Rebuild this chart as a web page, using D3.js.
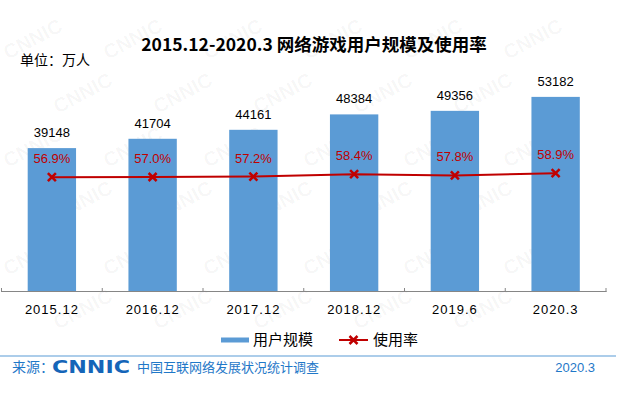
<!DOCTYPE html>
<html>
<head>
<meta charset="utf-8">
<script src="https://cdn.jsdelivr.net/npm/d3@7"></script>
<style>
  body { margin: 0; background: #fff; }
  svg { display: block; font-family: "Liberation Sans", Arial, "Noto Sans CJK SC", sans-serif; }
</style>
</head>
<body>
<div id="chart"></div>
<script>
var width = 629, height = 393;

// data
var periods = ["2015.12", "2016.12", "2017.12", "2018.12", "2019.6", "2020.3"];
var users = [39148, 41704, 44161, 48384, 49356, 53182];
var rates = [56.9, 57.0, 57.2, 58.4, 57.8, 58.9];

var barColor = "#5b9bd5", lineColor = "#c00000", blue = "#1f78c8";

var svg = d3.select("#chart")
  .append("svg")
  .attr("width", width)
  .attr("height", height);

// faint CNNIC watermark, kept inside the frame
var wm = svg.append("g").attr("fill", "#000").attr("fill-opacity", 0.04);
for (var r = 0; r < 6; r++) {
  for (var c = 0; c < 6; c++) {
    var wx = c * 100 + (r % 2) * 50 + 8, wy = r * 54 + 60;
    if (wx > 540) continue;
    wm.append("text")
      .attr("transform", "translate(" + wx + "," + wy + ") rotate(-28)")
      .attr("font-size", 20)
      .attr("font-weight", "bold")
      .text("CNNIC");
  }
}

var x = d3.scaleBand()
  .domain(periods)
  .range([1.5, 606])
  .paddingInner(0.52)
  .paddingOuter(0.26);

var y = d3.scaleLinear().domain([0, 60000]).range([291, 72]);
var y2 = d3.scaleLinear().domain([0, 110]).range([291, 71]);

// title
svg.append("text")
  .attr("x", 314).attr("y", 51)
  .attr("text-anchor", "middle")
  .attr("font-size", 17.5)
  .attr("font-weight", "bold")
  .attr("font-family", "'Noto Sans CJK SC', sans-serif")
  .text("2015.12-2020.3 网络游戏用户规模及使用率");

svg.append("text")
  .attr("x", 20).attr("y", 65)
  .attr("font-size", 14)
  .attr("font-family", "'Noto Sans CJK SC', sans-serif")
  .text("单位：万人");

// bars
svg.selectAll(".bar")
  .data(users)
  .enter().append("rect")
  .attr("class", "bar")
  .attr("x", function(d, i) { return x(periods[i]); })
  .attr("y", function(d) { return y(d); })
  .attr("width", x.bandwidth())
  .attr("height", function(d) { return y(0) - y(d); })
  .attr("fill", barColor);

svg.selectAll(".val")
  .data(users)
  .enter().append("text")
  .attr("class", "val")
  .attr("x", function(d, i) { return x(periods[i]) + x.bandwidth() / 2; })
  .attr("y", function(d) { return y(d) - 11; })
  .attr("text-anchor", "middle")
  .attr("font-size", 13)
  .attr("fill", "#000")
  .text(function(d) { return d; });

// x axis
var xAxis = d3.axisBottom(x).tickSize(0).tickPadding(14);
var gx = svg.append("g").attr("transform", "translate(0,291)").call(xAxis);
gx.select(".domain").attr("stroke", "#868686");
gx.selectAll("text")
  .attr("font-size", 13)
  .attr("letter-spacing", 1)
  .attr("font-family", "'Liberation Sans', Arial, sans-serif")
  .attr("fill", "#000");
// category boundary ticks
var bounds = periods.map(function(p) { return x(p) - x.step() * x.paddingInner() / 2; });
bounds.push(606);
gx.selectAll(".bound")
  .data(bounds)
  .enter().append("line")
  .attr("x1", function(d) { return d; })
  .attr("x2", function(d) { return d; })
  .attr("y1", -3).attr("y2", 1)
  .attr("stroke", "#868686");

// rate line
var cx = function(d, i) { return x(periods[i]) + x.bandwidth() / 2; };
var line = d3.line()
  .x(cx)
  .y(function(d) { return y2(d); });

svg.append("path")
  .datum(rates)
  .attr("d", line)
  .attr("fill", "none")
  .attr("stroke", lineColor)
  .attr("stroke-width", 2);

var m = 4;
svg.selectAll(".mark")
  .data(rates)
  .enter().append("path")
  .attr("class", "mark")
  .attr("transform", function(d, i) { return "translate(" + cx(d, i) + "," + y2(d) + ")"; })
  .attr("d", "M" + (-m) + "," + (-m) + "L" + m + "," + m + "M" + (-m) + "," + m + "L" + m + "," + (-m))
  .attr("stroke", lineColor)
  .attr("stroke-width", 2.5);

svg.selectAll(".rate")
  .data(rates)
  .enter().append("text")
  .attr("class", "rate")
  .attr("x", cx)
  .attr("y", function(d) { return y2(d) - 14; })
  .attr("text-anchor", "middle")
  .attr("font-size", 13)
  .attr("fill", lineColor)
  .text(function(d) { return d.toFixed(1) + "%"; });

// legend
var lg = svg.append("g").attr("font-family", "'Noto Sans CJK SC', sans-serif").attr("font-size", 15);
lg.append("line").attr("x1", 221).attr("x2", 249).attr("y1", 340).attr("y2", 340)
  .attr("stroke", barColor).attr("stroke-width", 5);
lg.append("text").attr("x", 253).attr("y", 345).text("用户规模");
lg.append("line").attr("x1", 339).attr("x2", 368).attr("y1", 340).attr("y2", 340)
  .attr("stroke", lineColor).attr("stroke-width", 2);
lg.append("path")
  .attr("transform", "translate(353.5,340)")
  .attr("d", "M-4,-4L4,4M-4,4L4,-4")
  .attr("stroke", lineColor).attr("stroke-width", 2.5);
lg.append("text").attr("x", 373).attr("y", 345).text("使用率");

// footer
svg.append("line")
  .attr("x1", 0).attr("x2", 616).attr("y1", 356).attr("y2", 356)
  .attr("stroke", barColor).attr("stroke-width", 1.2);

var ft = svg.append("g").attr("fill", blue).attr("font-family", "'Noto Sans CJK SC', sans-serif");
ft.append("text").attr("x", 12).attr("y", 372).attr("font-size", 14).text("来源：");
ft.append("text").attr("x", 52).attr("y", 373)
  .attr("font-family", "'DejaVu Sans', sans-serif")
  .attr("font-size", 18).attr("font-weight", "bold")
  .attr("textLength", 78).attr("lengthAdjust", "spacingAndGlyphs")
  .attr("fill", "#1565b8")
  .text("CNNIC");
ft.append("text").attr("x", 137).attr("y", 372).attr("font-size", 13).text("中国互联网络发展状况统计调查");
ft.append("text").attr("x", 595).attr("y", 372).attr("text-anchor", "end")
  .attr("font-family", "'Liberation Sans', Arial, sans-serif")
  .attr("font-size", 13).text("2020.3");
</script>
</body>
</html>
